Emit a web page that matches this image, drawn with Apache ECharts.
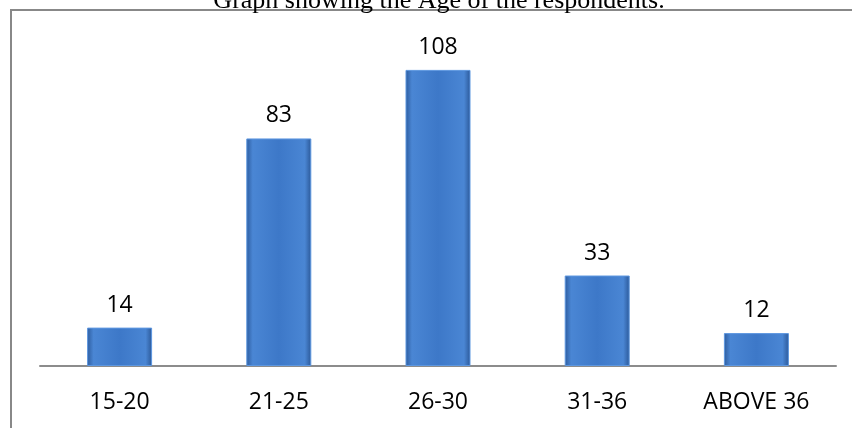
<!DOCTYPE html>
<html>
<head>
<meta charset="utf-8">
<script src="https://cdn.jsdelivr.net/npm/echarts@6/dist/echarts.min.js"></script>
<style>
    html, body { margin: 0; padding: 0; background: #fff; }
    #chart { width: 852px; height: 428px; }
</style>
</head>
<body>
<div id="chart"></div>
<script>
    // age groups and number of respondents
    var ageGroups = ['15-20', '21-25', '26-30', '31-36', 'ABOVE 36'];
    var respondents = [14, 83, 108, 33, 12];

    var chart = echarts.init(document.getElementById('chart'));

    // bevelled blue bar look
    var barColor = new echarts.graphic.LinearGradient(0, 0, 1, 0, [
        { offset: 0, color: '#2d5c9e' },
        { offset: 0.1, color: '#4a86d4' },
        { offset: 0.5, color: '#3d78c8' },
        { offset: 0.9, color: '#4a86d4' },
        { offset: 1, color: '#2b5898' }
    ]);

    chart.setOption({
        animation: false,
        graphic: [
            {
                type: 'polyline',
                shape: { points: [[11, 428], [11, 10], [852, 10]] },
                style: { stroke: '#888', lineWidth: 2, fill: null }
            },
            {
                type: 'text',
                x: 439,
                y: -12,
                style: {
                    text: 'Graph showing the Age of the respondents.',
                    font: '26px "Liberation Serif"',
                    fill: '#000',
                    align: 'center',
                    verticalAlign: 'top'
                }
            }
        ],
        grid: { left: 40, right: 16, top: 37, bottom: 62 },
        xAxis: {
            type: 'category',
            data: ageGroups,
            axisLine: { lineStyle: { color: '#8c8c8c', width: 2 } },
            axisTick: { show: false },
            axisLabel: {
                color: '#000',
                fontSize: 23,
                fontFamily: 'Open Sans',
                margin: 25
            }
        },
        yAxis: {
            type: 'value',
            min: 0,
            max: 120,
            show: false
        },
        series: [
            {
                name: 'Respondents',
                type: 'bar',
                data: respondents,
                barWidth: 65,
                itemStyle: {
                    color: barColor,
                    borderColor: '#5d97e0',
                    borderWidth: 1
                },
                label: {
                    show: true,
                    position: 'top',
                    distance: 11,
                    color: '#000',
                    fontSize: 23,
                    fontFamily: 'Open Sans'
                }
            }
        ]
    });
</script>
</body>
</html>
